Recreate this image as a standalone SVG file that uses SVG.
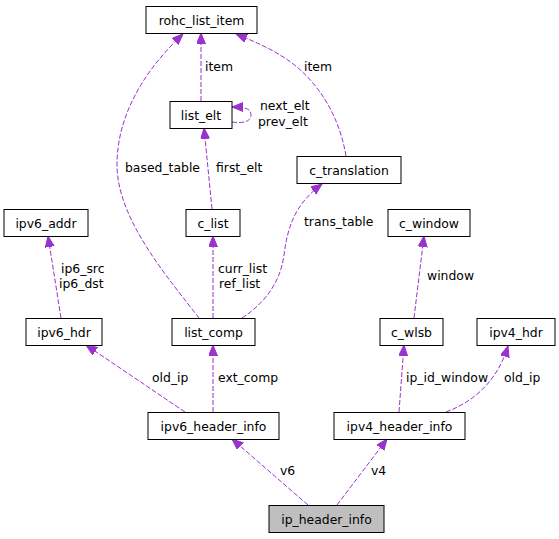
<svg xmlns="http://www.w3.org/2000/svg" width="559" height="539" viewBox="0 0 559 539">
<style>
.node rect{fill:#ffffff;stroke:#000000;stroke-width:1}
.node.main rect{fill:#bfbfbf}
.node text{font-family:"DejaVu Sans","Liberation Sans",sans-serif;font-size:12.4px;fill:#000000;text-anchor:middle}
.edges path{fill:none;stroke:#9a32cd;stroke-width:1;stroke-dasharray:5,2;marker-end:url(#arr)}
.lbl{font-family:"DejaVu Sans","Liberation Sans",sans-serif;font-size:12.4px;fill:#000000}
</style>
<defs>
<marker id="arr" markerUnits="userSpaceOnUse" markerWidth="12" markerHeight="10" refX="11" refY="4.5" orient="auto" viewBox="0 0 12 10">
<path d="M0,0 L11,4.5 L0,9 z" fill="#9a32cd" stroke="#9a32cd" stroke-width="1"/>
</marker>
</defs>
<rect width="559" height="539" fill="#ffffff"/>
<g id="connectors" class="edges">
<path d="M201,101 L201,33"/>
<path d="M232,122 C246,124 251,120 251,115 C251,109 246,107 232,107"/>
<path d="M346,156 C340,120 322,86 292,63 C276,51 256,42 236,34"/>
<path d="M199,318 C170,280 117,220 117,165 C117,110 150,65 183,34"/>
<path d="M212,209 L204,128"/>
<path d="M213,318 L213,236"/>
<path d="M242,318 C262,305 280,285 284,255 C288,222 298,202 322,184"/>
<path d="M61,318 L48,236"/>
<path d="M185,412 L86,345"/>
<path d="M213,412 L213,345"/>
<path d="M414,318 L424,236"/>
<path d="M399,412 L404,345"/>
<path d="M446,412 C470,403 496,385 508,346"/>
<path d="M308,505 L232,439"/>
<path d="M337,505 L387,439"/>
</g>
<g id="labels">
<text class="lbl" x="205" y="71">item</text>
<text class="lbl" x="260" y="110">next_elt</text>
<text class="lbl" x="258" y="126">prev_elt</text>
<text class="lbl" x="304" y="71">item</text>
<text class="lbl" x="125" y="172">based_table</text>
<text class="lbl" x="216" y="172">first_elt</text>
<text class="lbl" x="304" y="226">trans_table</text>
<text class="lbl" x="61" y="273">ip6_src</text>
<text class="lbl" x="59" y="288">ip6_dst</text>
<text class="lbl" x="218" y="273">curr_list</text>
<text class="lbl" x="219" y="288">ref_list</text>
<text class="lbl" x="427" y="280">window</text>
<text class="lbl" x="152" y="382">old_ip</text>
<text class="lbl" x="218" y="382">ext_comp</text>
<text class="lbl" x="406" y="382">ip_id_window</text>
<text class="lbl" x="504" y="382">old_ip</text>
<text class="lbl" x="280" y="475">v6</text>
<text class="lbl" x="371" y="475">v4</text>
</g>
<g id="rohc_list_item" class="node"><rect x="146" y="6.5" width="111" height="27"/><text x="201.5" y="24.5">rohc_list_item</text></g>
<g id="list_elt" class="node"><rect x="170" y="101.5" width="62" height="27"/><text x="201" y="119.5">list_elt</text></g>
<g id="c_translation" class="node"><rect x="297" y="156.5" width="104" height="27"/><text x="349" y="174.5">c_translation</text></g>
<g id="ipv6_addr" class="node"><rect x="4" y="209.5" width="84" height="27"/><text x="46" y="227.5">ipv6_addr</text></g>
<g id="c_list" class="node"><rect x="186" y="209.5" width="54" height="27"/><text x="213" y="227.5">c_list</text></g>
<g id="c_window" class="node"><rect x="388" y="209.5" width="82" height="27"/><text x="429" y="227.5">c_window</text></g>
<g id="ipv6_hdr" class="node"><rect x="26" y="318.5" width="76" height="27"/><text x="64" y="336.5">ipv6_hdr</text></g>
<g id="list_comp" class="node"><rect x="172" y="318.5" width="83" height="27"/><text x="213.5" y="336.5">list_comp</text></g>
<g id="c_wlsb" class="node"><rect x="380" y="318.5" width="63" height="27"/><text x="411.5" y="336.5">c_wlsb</text></g>
<g id="ipv4_hdr" class="node"><rect x="477" y="318.5" width="78" height="27"/><text x="516" y="336.5">ipv4_hdr</text></g>
<g id="ipv6_header_info" class="node"><rect x="148" y="412.5" width="131" height="27"/><text x="213.5" y="430.5">ipv6_header_info</text></g>
<g id="ipv4_header_info" class="node"><rect x="334" y="412.5" width="131" height="27"/><text x="399.5" y="430.5">ipv4_header_info</text></g>
<g id="ip_header_info" class="node main"><rect x="269" y="505.5" width="115" height="27"/><text x="326.5" y="523.5">ip_header_info</text></g>
</svg>
